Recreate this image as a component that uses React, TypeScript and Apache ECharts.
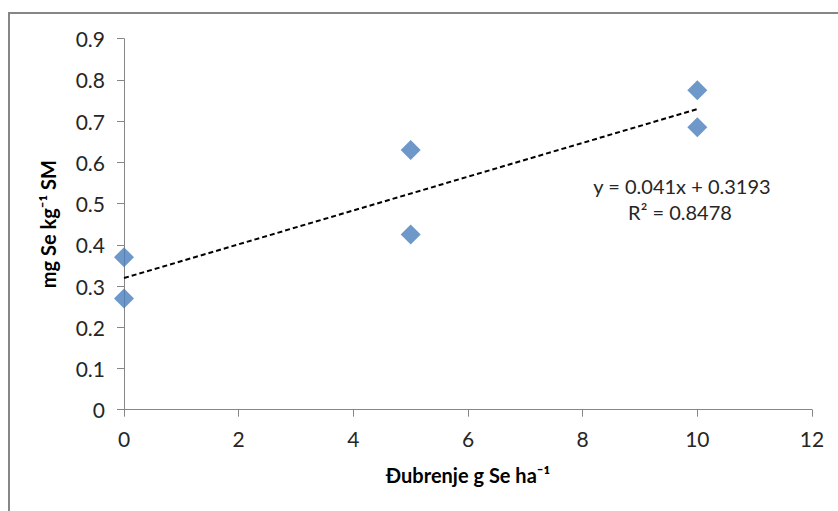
import React, { useEffect, useRef } from "react";
import * as echarts from "echarts";

const xValues = [0, 0, 5, 5, 10, 10];
const yValues = [0.37, 0.27, 0.63, 0.425, 0.775, 0.685];
const slope = 0.041;
const intercept = 0.3193;
const rSquared = 0.8478;
const trendX = [0, 10];

const FONT = "Lato, 'Open Sans', sans-serif";

export default function App() {
  const ref = useRef<HTMLDivElement>(null);
  useEffect(() => {
    if (!ref.current) return;
    const chart = echarts.init(ref.current, null, { renderer: "svg" });
    const points = xValues.map((x, i) => [x, yValues[i]]);
    const trend = trendX.map((x) => [x, slope * x + intercept]);
    chart.setOption({
      animation: false,
      backgroundColor: "#ffffff",
      grid: { left: 124, right: 26, top: 38.7, bottom: 101.3 },
      xAxis: {
        type: "value",
        min: 0,
        max: 12,
        interval: 2,
        name: "Đubrenje g Se ha⁻¹",
        nameLocation: "middle",
        nameGap: 55,
        nameTextStyle: { fontFamily: FONT, fontWeight: "bold", fontSize: 20, color: "#000" },
        axisLine: { show: true, lineStyle: { color: "#868686", width: 1 } },
        axisTick: { show: true, length: 7, lineStyle: { color: "#868686" } },
        axisLabel: { fontFamily: FONT, fontSize: 21, color: "#262626", margin: 18 },
        splitLine: { show: false },
      },
      yAxis: {
        type: "value",
        min: 0,
        max: 0.9,
        interval: 0.1,
        name: "mg Se kg⁻¹ SM",
        nameLocation: "middle",
        nameGap: 66,
        nameRotate: 90,
        nameTextStyle: { fontFamily: FONT, fontWeight: "bold", fontSize: 20, color: "#000" },
        axisLine: { show: true, lineStyle: { color: "#868686", width: 1 } },
        axisTick: { show: true, length: 7, lineStyle: { color: "#868686" } },
        axisLabel: {
          fontFamily: FONT,
          fontSize: 21,
          color: "#262626",
          margin: 19,
          formatter: (v: number) => (Math.round(v * 10) / 10).toString(),
        },
        splitLine: { show: false },
      },
      series: [
        {
          type: "line",
          data: trend,
          symbol: "none",
          lineStyle: { color: "#000", width: 2, type: [5, 3] },
          z: 1,
        },
        {
          type: "scatter",
          data: points,
          symbol: "diamond",
          symbolSize: [20, 20],
          itemStyle: { color: "#4A7EBB" },
          z: 2,
        },
      ],
      graphic: [
        {
          type: "rect",
          shape: { x: 9, y: 13, width: 900, height: 600 },
          style: { fill: "none", stroke: "#868686", lineWidth: 2 },
          silent: true,
        },
        {
          type: "text",
          x: 682,
          y: 186,
          style: {
            text: `y = ${slope}x + ${intercept}`,
            fontFamily: FONT,
            fontSize: 20,
            fill: "#262626",
            align: "center",
            verticalAlign: "middle",
          },
        },
        {
          type: "text",
          x: 680,
          y: 212,
          style: {
            text: `R² = ${rSquared}`,
            fontFamily: FONT,
            fontSize: 20,
            fill: "#262626",
            align: "center",
            verticalAlign: "middle",
          },
        },
      ],
    });
    return () => chart.dispose();
  }, []);
  return (
    <div
      ref={ref}
      style={{ position: "fixed", left: 0, top: 0, width: 838, height: 511 }}
    />
  );
}
